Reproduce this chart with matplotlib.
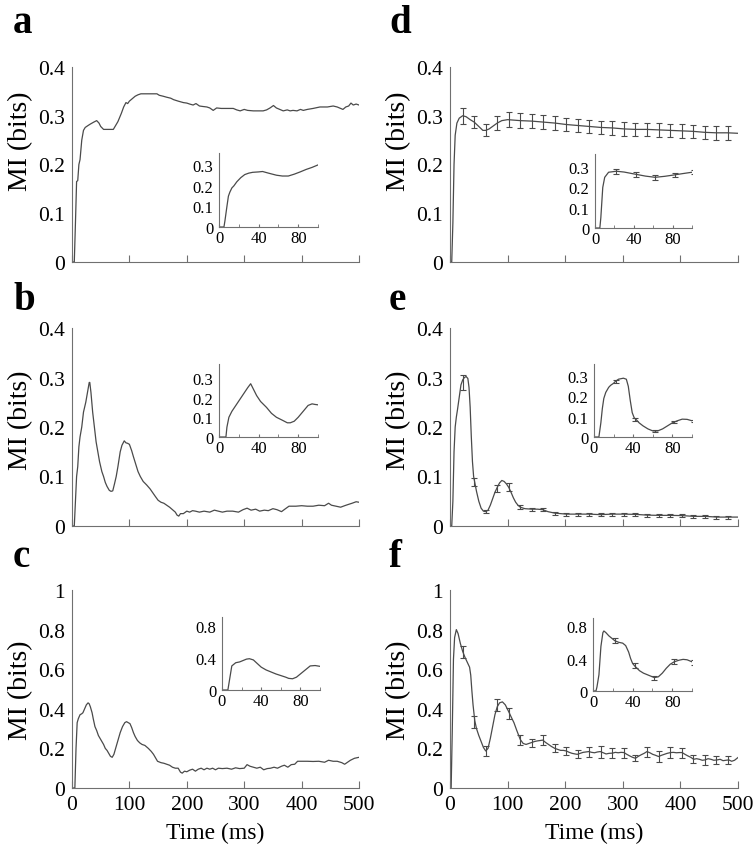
import matplotlib
matplotlib.use("Agg")
import matplotlib.pyplot as plt
from matplotlib.ticker import FuncFormatter, MultipleLocator

plt.rcParams['font.family'] = ['Liberation Serif', 'DejaVu Serif']

# ---- data (time in ms, MI in bits) ----
a_t = [0, 4, 6, 8, 10, 12, 14, 17, 20, 23, 28, 32, 38, 43, 47, 50, 55, 62, 72, 76, 80, 86, 90, 94,
       97, 100, 104, 110, 115, 120, 135, 148, 152, 159, 165, 172, 177, 185, 194, 200, 205, 211, 216,
       222, 228, 235, 240, 246, 252, 260, 270, 281, 287, 293, 300, 306, 316, 325, 333, 339, 345, 351,
       356, 362, 368, 375, 380, 385, 392, 398, 403, 410, 420, 432, 445, 455, 462, 468, 472, 477, 482,
       486, 490, 495, 500]
a_v = [0, 0, 0.08, 0.165, 0.167, 0.2, 0.21, 0.25, 0.27, 0.276, 0.28, 0.283, 0.287, 0.29, 0.285,
       0.278, 0.272, 0.272, 0.272, 0.28, 0.288, 0.305, 0.318, 0.327, 0.325, 0.33, 0.334, 0.34, 0.343,
       0.345, 0.345, 0.345, 0.342, 0.34, 0.338, 0.336, 0.333, 0.33, 0.327, 0.326, 0.324, 0.322, 0.325,
       0.32, 0.319, 0.318, 0.316, 0.311, 0.316, 0.315, 0.315, 0.315, 0.312, 0.31, 0.313, 0.311, 0.31,
       0.31, 0.31, 0.312, 0.316, 0.321, 0.316, 0.313, 0.31, 0.312, 0.31, 0.311, 0.31, 0.313, 0.311,
       0.313, 0.315, 0.318, 0.318, 0.32, 0.318, 0.315, 0.313, 0.318, 0.32, 0.326, 0.322, 0.324, 0.322]

b_t = [0, 4, 6, 8, 10, 12, 14, 17, 20, 24, 27, 30, 31, 33, 36, 39, 42, 45, 48, 52, 55, 58, 61, 65,
       68, 71, 74, 77, 80, 84, 87, 91, 94, 97, 100, 104, 107, 111, 115, 119, 124, 130, 136, 142, 145,
       150, 155, 160, 165, 170, 175, 180, 183, 186, 189, 194, 200, 205, 210, 215, 222, 230, 240, 248,
       255, 262, 270, 280, 290, 298, 305, 312, 320, 327, 335, 342, 350, 357, 365, 372, 378, 390, 400,
       410, 420, 430, 440, 447, 452, 460, 468, 475, 480, 488, 495, 500]
b_v = [0, 0, 0.05, 0.1, 0.12, 0.16, 0.18, 0.2, 0.23, 0.25, 0.27, 0.29, 0.29, 0.27, 0.23, 0.2, 0.17,
       0.15, 0.13, 0.11, 0.1, 0.088, 0.08, 0.072, 0.07, 0.071, 0.085, 0.1, 0.12, 0.15, 0.163, 0.172,
       0.168, 0.167, 0.165, 0.152, 0.14, 0.125, 0.11, 0.1, 0.09, 0.083, 0.075, 0.065, 0.06, 0.052,
       0.048, 0.046, 0.042, 0.038, 0.033, 0.028, 0.022, 0.02, 0.025, 0.025, 0.03, 0.028, 0.031, 0.03,
       0.028, 0.03, 0.028, 0.032, 0.03, 0.028, 0.03, 0.03, 0.028, 0.033, 0.036, 0.032, 0.034, 0.03,
       0.032, 0.031, 0.035, 0.033, 0.029, 0.035, 0.04, 0.04, 0.041, 0.04, 0.04, 0.042, 0.041, 0.046,
       0.042, 0.04, 0.038, 0.041, 0.043, 0.046, 0.049, 0.048]

c_t = [0, 5, 7, 9, 11, 14, 17, 19, 22, 25, 28, 30, 32, 35, 37, 40, 43, 46, 50, 55, 58, 61, 64, 67,
       70, 73, 76, 80, 84, 88, 92, 95, 98, 101, 104, 107, 110, 114, 118, 122, 127, 133, 138, 142, 146,
       149, 155, 160, 165, 170, 175, 180, 185, 189, 192, 196, 200, 205, 210, 215, 220, 225, 230, 235,
       240, 245, 250, 255, 262, 270, 278, 285, 292, 300, 305, 310, 316, 322, 328, 334, 340, 346, 352,
       358, 365, 370, 376, 382, 388, 393, 400, 410, 420, 430, 440, 447, 455, 462, 470, 475, 480, 485,
       492, 500]
c_v = [0, 0, 0.2, 0.33, 0.35, 0.37, 0.375, 0.38, 0.4, 0.42, 0.43, 0.425, 0.41, 0.38, 0.35, 0.31,
       0.29, 0.265, 0.245, 0.22, 0.2, 0.19, 0.175, 0.16, 0.155, 0.17, 0.2, 0.24, 0.28, 0.31, 0.33,
       0.335, 0.33, 0.325, 0.305, 0.28, 0.26, 0.24, 0.228, 0.22, 0.215, 0.2, 0.185, 0.17, 0.15, 0.135,
       0.128, 0.125, 0.12, 0.115, 0.105, 0.1, 0.1, 0.08, 0.075, 0.085, 0.082, 0.09, 0.095, 0.085,
       0.095, 0.1, 0.092, 0.1, 0.095, 0.1, 0.092, 0.1, 0.098, 0.1, 0.095, 0.102, 0.098, 0.1, 0.118,
       0.11, 0.105, 0.1, 0.105, 0.092, 0.098, 0.1, 0.105, 0.1, 0.11, 0.115, 0.105, 0.118, 0.12, 0.135,
       0.135, 0.135, 0.134, 0.135, 0.13, 0.14, 0.135, 0.135, 0.128, 0.12, 0.13, 0.14, 0.15, 0.155]

d_t = [0, 3, 5, 7, 9, 12, 16, 22, 28, 35, 42, 50, 57, 62, 68, 75, 82, 90, 100, 122, 142, 162, 182,
       202, 222, 242, 262, 282, 302, 322, 342, 362, 382, 402, 422, 442, 462, 482, 500]
d_v = [0, 0, 0.08, 0.2, 0.26, 0.285, 0.295, 0.3, 0.298, 0.292, 0.287, 0.278, 0.27, 0.27, 0.273,
       0.279, 0.285, 0.29, 0.292, 0.29, 0.289, 0.287, 0.285, 0.282, 0.28, 0.278, 0.276, 0.275, 0.273,
       0.272, 0.272, 0.271, 0.27, 0.269, 0.268, 0.266, 0.265, 0.265, 0.264]

e_t = [0, 3, 5, 7, 9, 11, 13, 16, 19, 22, 25, 28, 31, 33, 35, 37, 39, 41, 43, 46, 50, 54, 58, 62,
       66, 70, 74, 78, 82, 86, 90, 94, 98, 102, 106, 110, 114, 118, 122, 130, 142, 152, 161, 170, 182,
       202, 221, 241, 261, 282, 302, 322, 342, 362, 383, 403, 423, 443, 464, 484, 500]
e_v = [0, 0, 0.05, 0.15, 0.2, 0.22, 0.235, 0.26, 0.285, 0.295, 0.3, 0.302, 0.298, 0.28, 0.24, 0.18,
       0.13, 0.1, 0.088, 0.07, 0.05, 0.036, 0.03, 0.029, 0.032, 0.042, 0.055, 0.068, 0.078, 0.087,
       0.092, 0.09, 0.085, 0.078, 0.068, 0.057, 0.048, 0.042, 0.038, 0.035, 0.034, 0.034, 0.033,
       0.029, 0.026, 0.024, 0.024, 0.024, 0.023, 0.024, 0.024, 0.0235, 0.022, 0.0215, 0.0215, 0.021,
       0.0195, 0.0195, 0.018, 0.018, 0.018]

f_t = [0, 2, 4, 6, 8, 11, 14, 18, 22, 26, 30, 34, 36, 38, 40, 43, 46, 50, 54, 58, 62, 66, 70, 74,
       78, 82, 86, 91, 96, 102, 106, 111, 116, 122, 127, 132, 137, 142, 147, 152, 157, 161, 166, 171,
       176, 182, 187, 192, 197, 202, 207, 212, 217, 221, 226, 231, 236, 241, 246, 251, 256, 261, 266,
       271, 276, 282, 287, 292, 297, 302, 307, 312, 317, 322, 327, 332, 337, 342, 347, 352, 357, 362,
       367, 372, 377, 383, 388, 393, 398, 403, 408, 413, 418, 423, 428, 433, 438, 443, 448, 453, 458,
       464, 469, 474, 479, 484, 489, 494, 500]
f_v = [0, 0, 0.3, 0.65, 0.76, 0.8, 0.78, 0.73, 0.69, 0.66, 0.635, 0.61, 0.57, 0.49, 0.42, 0.34, 0.3,
       0.265, 0.235, 0.205, 0.187, 0.2, 0.25, 0.31, 0.37, 0.41, 0.43, 0.435, 0.42, 0.385, 0.36, 0.33,
       0.29, 0.245, 0.225, 0.22, 0.225, 0.23, 0.235, 0.238, 0.24, 0.242, 0.23, 0.22, 0.21, 0.2, 0.195,
       0.19, 0.19, 0.187, 0.18, 0.175, 0.172, 0.17, 0.175, 0.18, 0.182, 0.184, 0.18, 0.178, 0.182,
       0.184, 0.178, 0.172, 0.175, 0.176, 0.18, 0.178, 0.18, 0.179, 0.17, 0.162, 0.155, 0.15, 0.16,
       0.168, 0.175, 0.184, 0.178, 0.17, 0.165, 0.159, 0.165, 0.17, 0.175, 0.179, 0.18, 0.178, 0.179,
       0.179, 0.17, 0.162, 0.155, 0.145, 0.148, 0.145, 0.14, 0.142, 0.148, 0.145, 0.14, 0.142, 0.145,
       0.138, 0.14, 0.142, 0.135, 0.14, 0.154]

# error bars every 20 ms
bar_t = [22, 42, 62, 82, 102, 122, 142, 162, 182, 202, 222, 242, 262, 282, 302, 322, 342, 362, 382,
         402, 422, 442, 462, 482]
d_bar = [0.3, 0.287, 0.271, 0.285, 0.292, 0.29, 0.289, 0.287, 0.285, 0.282, 0.28, 0.278, 0.276,
         0.275, 0.273, 0.272, 0.272, 0.271, 0.27, 0.269, 0.268, 0.266, 0.265, 0.265]
d_err = [0.016, 0.013, 0.012, 0.014, 0.015, 0.015, 0.015, 0.015, 0.014, 0.014, 0.014, 0.014, 0.014,
         0.014, 0.014, 0.014, 0.014, 0.014, 0.014, 0.014, 0.014, 0.014, 0.014, 0.014]
e_bar = [0.29, 0.088, 0.029, 0.076, 0.079, 0.039, 0.034, 0.034, 0.026, 0.024, 0.024, 0.024, 0.023,
         0.024, 0.024, 0.0235, 0.022, 0.0215, 0.0215, 0.021, 0.0195, 0.0195, 0.018, 0.018]
e_err = [0.015, 0.008, 0.003, 0.007, 0.008, 0.004, 0.003, 0.003, 0.003, 0.003, 0.003, 0.003, 0.003,
         0.003, 0.003, 0.003, 0.003, 0.003, 0.003, 0.003, 0.003, 0.003, 0.003, 0.003]
f_bar = [0.686, 0.334, 0.187, 0.418, 0.376, 0.242, 0.229, 0.242, 0.2, 0.187, 0.17, 0.184, 0.184,
         0.176, 0.179, 0.15, 0.184, 0.159, 0.179, 0.179, 0.145, 0.142, 0.142, 0.142]
f_err = [0.03, 0.03, 0.025, 0.03, 0.03, 0.025, 0.02, 0.025, 0.02, 0.02, 0.02, 0.025, 0.03, 0.025,
         0.025, 0.015, 0.025, 0.03, 0.03, 0.025, 0.02, 0.025, 0.02, 0.02]

# insets: first 100 ms
ai_t = [0, 5, 6, 8, 9.5, 11, 13, 15, 18, 22, 26, 30, 34, 40, 44, 50, 58, 64, 70, 76, 82, 88, 94, 100]
ai_v = [0, 0, 0.03, 0.1, 0.15, 0.17, 0.19, 0.2, 0.22, 0.24, 0.255, 0.262, 0.266, 0.268, 0.27,
        0.262, 0.252, 0.248, 0.248, 0.257, 0.268, 0.28, 0.29, 0.302]
bi_t = [0, 7, 8, 10, 13, 17, 21, 25, 29, 32, 35, 38, 42, 48, 53, 58, 64, 69, 72, 76, 80, 85, 90,
        94, 97, 100]
bi_v = [0, 0, 0.05, 0.1, 0.13, 0.16, 0.19, 0.22, 0.25, 0.27, 0.24, 0.21, 0.18, 0.15, 0.12, 0.1,
        0.085, 0.072, 0.072, 0.08, 0.1, 0.13, 0.16, 0.168, 0.165, 0.163]
ci_t = [0, 6, 8, 10, 14, 18, 22, 25, 28, 32, 36, 40, 45, 50, 55, 60, 65, 68, 72, 76, 80, 85, 90,
        95, 100]
ci_v = [0, 0, 0.15, 0.3, 0.34, 0.35, 0.37, 0.385, 0.39, 0.375, 0.33, 0.285, 0.25, 0.225, 0.2, 0.18,
        0.16, 0.145, 0.14, 0.16, 0.2, 0.25, 0.3, 0.305, 0.295]
di_t = [0, 5, 6, 8, 10, 14, 22, 30, 42, 52, 62, 72, 82, 90, 100]
di_v = [0, 0, 0.05, 0.2, 0.25, 0.275, 0.28, 0.276, 0.265, 0.256, 0.25, 0.255, 0.262, 0.268, 0.275]
ei_t = [0, 5, 7, 8.5, 10, 12, 15, 17, 20, 22, 25, 30, 33, 35, 37, 39, 41, 43, 46, 50, 55, 60, 65,
        70, 75, 80, 85, 90, 95, 100]
ei_v = [0, 0, 0.07, 0.14, 0.19, 0.22, 0.245, 0.255, 0.265, 0.275, 0.285, 0.29, 0.285, 0.25, 0.18,
        0.12, 0.095, 0.086, 0.07, 0.055, 0.04, 0.03, 0.03, 0.04, 0.055, 0.07, 0.08, 0.088, 0.087, 0.08]
fi_t = [0, 3, 4, 6, 8, 10, 11, 13, 16, 19, 22, 26, 30, 33, 36, 38, 40, 42, 47, 51, 55, 59, 62, 66,
        70, 74, 78, 82, 87, 91, 95, 100]
fi_v = [0, 0, 0.05, 0.2, 0.55, 0.72, 0.74, 0.72, 0.68, 0.65, 0.62, 0.6, 0.59, 0.56, 0.48, 0.4, 0.34,
        0.31, 0.25, 0.22, 0.2, 0.18, 0.165, 0.175, 0.22, 0.28, 0.33, 0.36, 0.38, 0.39, 0.385, 0.36]
in_bar_t = [22, 42, 62, 82, 102]
di_bar = [0.28, 0.265, 0.25, 0.262, 0.276]
di_err = [0.012, 0.011, 0.011, 0.011, 0.011]
ei_bar = [0.275, 0.086, 0.03, 0.072, 0.08]
ei_err = [0.008, 0.006, 0.003, 0.005, 0.005]
fi_bar = [0.62, 0.31, 0.165, 0.36, 0.35]
fi_err = [0.03, 0.03, 0.025, 0.03, 0.03]

LINE = '#4a4a4a'
AXC = '#707070'


def fmt(v, pos):
    return '0' if v == 0 else '%g' % v


def style(ax, xlim, ylim, yticks, xticks, fs, ticklen, pad):
    for s in ['top', 'right']:
        ax.spines[s].set_visible(False)
    for s in ['left', 'bottom']:
        ax.spines[s].set_color(AXC)
        ax.spines[s].set_linewidth(0.8)
    ax.set_xlim(*xlim)
    ax.set_ylim(*ylim)
    ax.set_yticks(yticks)
    ax.set_xticks(xticks)
    ax.yaxis.set_major_formatter(FuncFormatter(fmt))
    ax.tick_params(axis='y', length=0, labelsize=fs, pad=pad)
    ax.tick_params(axis='x', direction='in', length=ticklen, width=0.8, color=AXC,
                   labelsize=fs, pad=pad)
    ax.patch.set_alpha(0)


fig = plt.figure(figsize=(7.54, 8.53), dpi=100)
W, H = 754.0, 853.0


def box(x0, x1, ytop, ybot):
    return [x0 / W, 1 - ybot / H, (x1 - x0) / W, (ybot - ytop) / H]


main_rows = [(68, 263), (329, 527), (591, 789)]
cols = [(72, 359), (450, 738)]
inset_boxes = {
    'a': (219, 318, 154, 228), 'b': (219, 318, 365, 438), 'c': (222, 320, 618, 691),
    'd': (595, 692, 155, 229), 'e': (594, 692, 365, 438), 'f': (593, 692, 619, 692),
}
inset_ylim = {'a': 0.36, 'b': 0.37, 'c': 0.91, 'd': 0.365, 'e': 0.36, 'f': 0.9}

panels = {
    'a': (a_t, a_v, None, None, ai_t, ai_v, None, None),
    'b': (b_t, b_v, None, None, bi_t, bi_v, None, None),
    'c': (c_t, c_v, None, None, ci_t, ci_v, None, None),
    'd': (d_t, d_v, d_bar, d_err, di_t, di_v, di_bar, di_err),
    'e': (e_t, e_v, e_bar, e_err, ei_t, ei_v, ei_bar, ei_err),
    'f': (f_t, f_v, f_bar, f_err, fi_t, fi_v, fi_bar, fi_err),
}
letter_y = [33, 310, 567]
label_y = [0.626, 0.54, 0.5]

for ci, letters in enumerate(['abc', 'def']):
    x0, x1 = cols[ci]
    for ri, L in enumerate(letters):
        yt, yb = main_rows[ri]
        t, v, bm, be, it, iv, ibm, ibe = panels[L]
        big = ri == 2
        ax = fig.add_axes(box(x0, x1, yt, yb))
        ax.plot(t, v, color=LINE, lw=0.9)
        if bm is not None:
            ax.errorbar(bar_t, bm, yerr=be, fmt='none', ecolor=LINE, elinewidth=0.8,
                        capsize=2.5, capthick=0.8)
        yt_main = [0, 0.2, 0.4, 0.6, 0.8, 1] if big else [0, 0.1, 0.2, 0.3, 0.4]
        style(ax, (0, 500), (0, 1 if big else 0.4), yt_main, [0, 100, 200, 300, 400, 500],
              15.5, 5, 5)
        if not big:
            ax.tick_params(axis='x', labelbottom=False)
        else:
            ax.set_xlabel('Time (ms)', fontsize=17, labelpad=6)
        ax.set_ylabel('MI (bits)', fontsize=20)
        ax.yaxis.set_label_coords(-0.135, label_y[ri])

        # inset
        bx0, bx1, byt, byb = inset_boxes[L]
        ins = fig.add_axes(box(bx0, bx1, byt, byb))
        ins.plot(it, iv, color=LINE, lw=0.9)
        if ibm is not None:
            ins.errorbar(in_bar_t, ibm, yerr=ibe, fmt='none', ecolor=LINE, elinewidth=0.8,
                         capsize=2.5, capthick=0.8)
        yt_in = [0, 0.4, 0.8] if big else [0, 0.1, 0.2, 0.3]
        style(ins, (0, 100), (0, inset_ylim[L]), yt_in, [0, 40, 80], 12, 2, 4)
        ins.xaxis.set_minor_locator(MultipleLocator(20))
        ins.tick_params(axis='x', which='minor', direction='in', length=2, width=0.6, color=AXC)
        ins.tick_params(axis='x', pad=2)

        lx = 13 if ci == 0 else 389
        fig.text(lx / W, 1 - letter_y[ri] / H, L, fontsize=28, fontweight='bold',
                 va='baseline', ha='left')

fig.savefig('out.png', dpi=100)
